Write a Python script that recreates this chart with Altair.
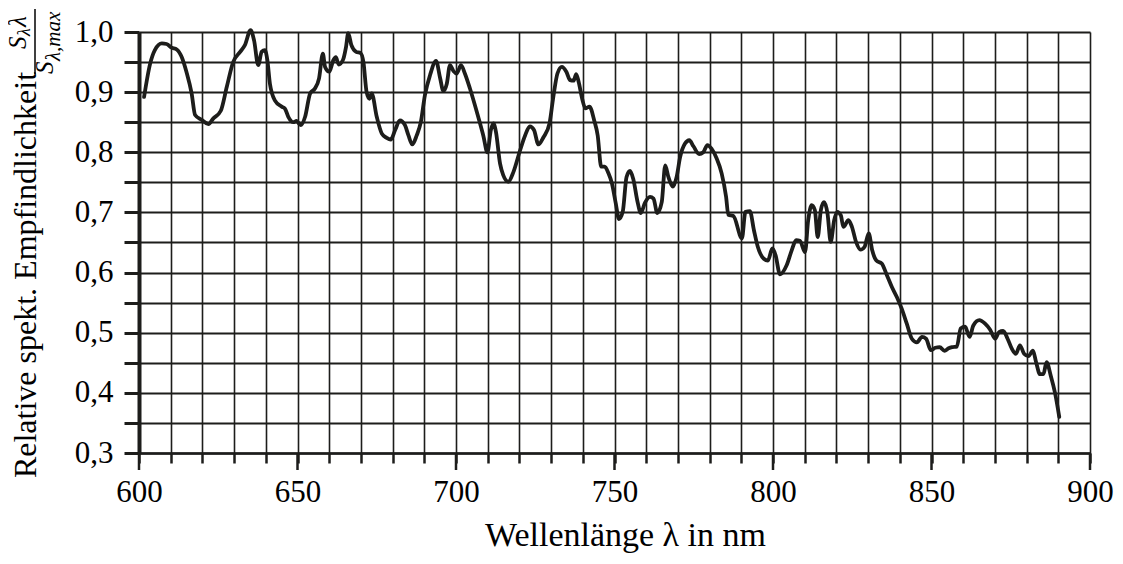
import altair as alt
import pandas as pd

# ---- data ----
wavelength = [601.6, 603.5, 605.0, 607.2, 608.7, 610.3, 611.9, 613.5, 615.0, 616.6,
              617.7, 619.8, 621.9, 623.4, 625.8, 627.7, 629.7, 631.9, 633.4, 635.2,
              636.3, 637.6, 638.7, 639.7, 640.5, 641.3, 642.9, 645.0, 646.0, 647.1,
              648.7, 649.7, 651.0, 652.4, 654.0, 655.5, 656.8, 658.0, 658.7, 660.0,
              661.3, 662.1, 663.0, 664.3, 665.3, 666.0, 667.0, 668.5, 669.9, 670.8,
              671.8, 672.7, 673.4, 675.0, 676.6, 678.1, 679.4, 680.8, 682.3, 683.9,
              685.0, 686.2, 687.6, 688.9, 690.2, 691.8, 693.7, 695.0, 696.0, 697.1,
              698.1, 699.2, 700.2, 701.6, 702.8, 704.4, 707.0, 708.6, 709.9, 711.0,
              711.8, 712.6, 713.9, 714.9, 716.5, 718.1, 720.2, 721.8, 723.3, 724.6,
              726.0, 727.6, 729.5, 730.7, 732.0, 733.4, 734.8, 736.0, 737.1, 737.9,
              738.7, 739.8, 740.8, 742.1, 743.6, 744.7, 745.8, 746.9, 748.1, 749.2,
              750.4, 751.4, 752.6, 753.8, 754.9, 755.9, 757.3, 758.3, 759.6, 761.2,
              762.3, 763.5, 764.9, 766.0, 767.0, 768.4, 769.6, 770.7, 772.2, 773.6,
              774.9, 776.7, 778.0, 779.3, 780.6, 782.2, 783.8, 785.2, 785.9, 787.5,
              790.2, 791.3, 792.7, 794.0, 795.2, 797.1, 798.4, 799.8, 800.8, 802.2,
              804.3, 805.9, 807.3, 808.5, 810.1, 811.1, 812.2, 813.2, 814.1, 815.1,
              816.1, 817.2, 818.2, 819.3, 820.3, 821.4, 822.2, 823.8, 824.9, 826.2,
              827.6, 828.9, 830.2, 831.3, 832.6, 834.3, 835.9, 837.5, 839.1, 840.6,
              842.2, 843.8, 845.4, 847.0, 848.3, 849.8, 851.2, 852.6, 854.1, 855.4,
              856.5, 858.0, 859.2, 860.6, 862.0, 863.2, 865.1, 866.9, 868.5, 870.1,
              871.3, 872.6, 874.0, 875.3, 876.6, 877.9, 879.2, 880.6, 882.0, 883.0,
              884.2, 885.3, 886.3, 887.6, 889.0, 890.3]

sensitivity = [0.892, 0.947, 0.970, 0.981, 0.980, 0.974, 0.971, 0.958, 0.933, 0.898,
               0.862, 0.854, 0.847, 0.856, 0.869, 0.909, 0.950, 0.967, 0.978, 1.003,
               0.986, 0.945, 0.967, 0.970, 0.953, 0.914, 0.886, 0.876, 0.873, 0.859,
               0.850, 0.852, 0.845, 0.859, 0.898, 0.906, 0.923, 0.964, 0.942, 0.934,
               0.953, 0.958, 0.946, 0.953, 0.975, 0.998, 0.978, 0.967, 0.965, 0.950,
               0.900, 0.889, 0.898, 0.859, 0.831, 0.824, 0.821, 0.837, 0.853, 0.845,
               0.828, 0.813, 0.828, 0.850, 0.895, 0.928, 0.952, 0.923, 0.902, 0.914,
               0.945, 0.935, 0.931, 0.945, 0.931, 0.906, 0.859, 0.828, 0.800, 0.837,
               0.848, 0.834, 0.781, 0.762, 0.751, 0.767, 0.803, 0.828, 0.843, 0.837,
               0.813, 0.825, 0.848, 0.892, 0.931, 0.942, 0.934, 0.920, 0.919, 0.930,
               0.917, 0.889, 0.873, 0.876, 0.853, 0.828, 0.776, 0.776, 0.765, 0.748,
               0.715, 0.689, 0.701, 0.759, 0.769, 0.756, 0.717, 0.699, 0.716, 0.726,
               0.723, 0.699, 0.717, 0.778, 0.759, 0.743, 0.759, 0.792, 0.814, 0.820,
               0.810, 0.797, 0.800, 0.812, 0.806, 0.790, 0.765, 0.726, 0.696, 0.694,
               0.657, 0.701, 0.702, 0.670, 0.643, 0.623, 0.620, 0.640, 0.629, 0.597,
               0.612, 0.637, 0.654, 0.653, 0.634, 0.687, 0.712, 0.704, 0.659, 0.704,
               0.717, 0.698, 0.651, 0.687, 0.701, 0.695, 0.676, 0.687, 0.676, 0.651,
               0.638, 0.643, 0.665, 0.637, 0.620, 0.615, 0.596, 0.576, 0.559, 0.540,
               0.515, 0.490, 0.484, 0.493, 0.490, 0.471, 0.475, 0.476, 0.470, 0.474,
               0.476, 0.477, 0.507, 0.510, 0.493, 0.512, 0.521, 0.515, 0.505, 0.490,
               0.501, 0.503, 0.490, 0.474, 0.465, 0.479, 0.465, 0.461, 0.470, 0.451,
               0.431, 0.431, 0.451, 0.429, 0.399, 0.360]

x_ticks = list(range(600, 901, 10))
x_major = list(range(600, 901, 50))
y_ticks = [round(0.30 + 0.05 * i, 2) for i in range(15)]

x_title = "Wellenlänge λ in nm"
y_title = "Relative spekt. Empfindlichkeit"

# fraction S_λ λ / S_λ,max, drawn as pieces of text
frac_text = ["S", "λ", "λ", "S", "λ,max"]
frac_px = [-113, -109, -113, -86, -79]
frac_py = [17, 4, -5, 42, 29]
frac_size = [25, 18, 25, 25, 21]

W, H = 951, 421
FONT = "Liberation Serif"
INK = "#1d1d1b"

df = pd.DataFrame({"lam": wavelength, "s": sensitivity})
xscale = alt.Scale(domain=[600, 900], nice=False, zero=False)
yscale = alt.Scale(domain=[0.3, 1.0], nice=False, zero=False)

x_axis = alt.Axis(
    values=x_ticks,
    labelExpr="datum.value % 50 == 0 ? datum.label : ''",
    title=x_title, grid=True, gridColor=INK, gridWidth=1.6, gridOpacity=1,
    tickSize=10, tickWidth=2.5, tickColor=INK,
    domainColor=INK, domainWidth=2.5,
    labelFont=FONT, labelFontSize=31, labelColor="black", labelPadding=14,
    labelOverlap=False, labelFlush=False, labelBound=False,
    titleFont=FONT, titleFontSize=34, titleFontWeight="normal",
    titleColor="black", titlePadding=11, titleX=486, titleAlign="center")

line = alt.Chart(df).mark_line(
    color=INK, strokeWidth=3.8, interpolate="monotone",
    strokeJoin="round", strokeCap="round"
).encode(
    x=alt.X("lam:Q", scale=xscale, axis=x_axis),
    y=alt.Y("s:Q", scale=yscale, axis=alt.Axis(
        values=y_ticks,
        labelExpr="round(datum.value*100) % 10 == 0 ? replace(format(datum.value, '.1f'), '.', ',') : ''",
        title=None, grid=True, gridColor=INK, gridWidth=2.2, gridOpacity=1,
        tickSize=15, tickWidth=3, tickColor=INK,
        domainColor=INK, domainWidth=4,
        labelFont=FONT, labelFontSize=31, labelColor="black", labelPadding=11,
        labelOverlap=False, labelFlush=False)),
)

long_ticks = alt.Chart(pd.DataFrame({"lam": x_major})).mark_rule(
    color=INK, strokeWidth=2.5
).encode(
    x=alt.X("lam:Q", scale=xscale, axis=x_axis),
    y=alt.value(H), y2=alt.value(H + 17),
)

ytitle = alt.Chart(pd.DataFrame({"t": [y_title]})).mark_text(
    angle=270, font=FONT, fontSize=32, align="center",
    baseline="alphabetic", color="black"
).encode(x=alt.value(-103), y=alt.value(243), text="t:N")

frac_parts = []
for t, px, py, fs in zip(frac_text, frac_px, frac_py, frac_size):
    frac_parts.append(
        alt.Chart(pd.DataFrame({"t": [t]})).mark_text(
            angle=270, font=FONT, fontStyle="italic", align="left",
            baseline="alphabetic", color="black", fontSize=fs
        ).encode(x=alt.value(px), y=alt.value(py), text="t:N")
    )

frac_line = alt.Chart(pd.DataFrame({"a": [0]})).mark_rule(
    color="black", strokeWidth=1.5
).encode(x=alt.value(-104), y=alt.value(42), y2=alt.value(-23))

chart = alt.layer(line, long_ticks, ytitle, *frac_parts, frac_line).properties(
    width=W, height=H,
    autosize=alt.AutoSizeParams(type="none"),
    padding={"left": 131, "top": 24, "right": 25, "bottom": 100},
).configure_view(stroke="transparent").configure(font=FONT)

chart.save("out.html", embed_options={"renderer": "svg", "actions": False})
